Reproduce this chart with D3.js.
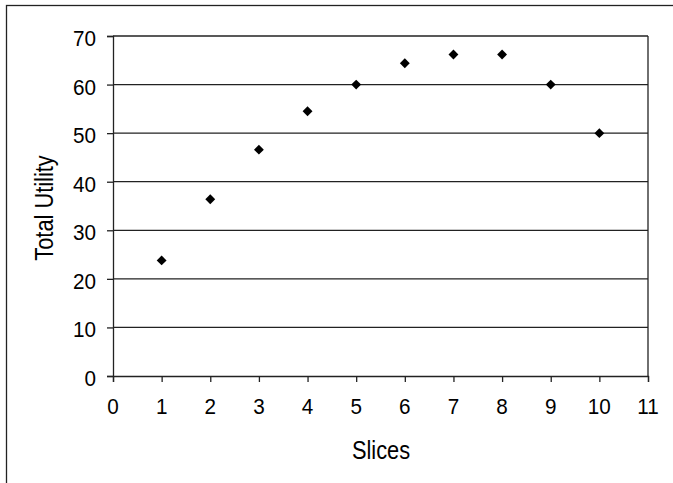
<!DOCTYPE html>
<html>
<head>
<meta charset="utf-8">
<script src="https://cdn.jsdelivr.net/npm/d3@7"></script>
<style>
  html, body { margin: 0; padding: 0; background: #fff; }
  svg { display: block; }
  text { font-family: "Liberation Sans", Arial, sans-serif; fill: #000; }
</style>
</head>
<body>
<svg id="chart" width="673" height="483"></svg>
<script>
// Total utility gained from each additional slice eaten
const slices = [1, 2, 3, 4, 5, 6, 7, 8, 9, 10];
const totalUtility = [23.8, 36.4, 46.6, 54.5, 60, 64.4, 66.2, 66.2, 60, 50];
const xTicks = [0, 1, 2, 3, 4, 5, 6, 7, 8, 9, 10, 11];
const yTicks = [0, 10, 20, 30, 40, 50, 60, 70];

const svg = d3.select("#chart");
const W = 673, H = 483;
const plot = { left: 113, right: 648, top: 36, bottom: 376 };
// narrow sans look: regular face squeezed horizontally
const TICK_FONT = 22, TICK_NARROW = 0.94;
const TITLE_FONT = 25.5, TITLE_NARROW = 0.855;

// Frame around the whole chart (runs off the right and bottom edges)
svg.append("rect")
  .attr("x", 6.5).attr("y", 5.5)
  .attr("width", W).attr("height", H)
  .attr("fill", "none").attr("stroke", "#222").attr("stroke-width", 1.3);

const x = d3.scaleLinear().domain([0, 11]).range([plot.left, plot.right]);
const y = d3.scaleLinear().domain([0, 70]).range([plot.bottom, plot.top]);

// Horizontal gridlines
svg.append("g")
  .selectAll("line")
  .data(yTicks.filter(d => d > 0))
  .join("line")
  .attr("x1", plot.left).attr("x2", plot.right)
  .attr("y1", d => y(d)).attr("y2", d => y(d))
  .attr("stroke", "#222").attr("stroke-width", 1.3);

// Right edge of the plot area
svg.append("line")
  .attr("x1", plot.right).attr("x2", plot.right)
  .attr("y1", plot.top).attr("y2", plot.bottom)
  .attr("stroke", "#222").attr("stroke-width", 1.3);

// Axes (lines and ticks); labels are set below in the narrow style
const yAxis = svg.append("g")
  .attr("transform", `translate(${plot.left},0)`)
  .call(d3.axisLeft(y).tickValues(yTicks).tickSize(6).tickFormat(""));
const xAxis = svg.append("g")
  .attr("transform", `translate(0,${plot.bottom})`)
  .call(d3.axisBottom(x).tickValues(xTicks).tickSize(6).tickFormat(""));
[yAxis, xAxis].forEach(g => {
  g.select(".domain").attr("stroke", "#222").attr("stroke-width", 1.3);
  g.selectAll(".tick line").attr("stroke", "#222").attr("stroke-width", 1.3);
  g.selectAll(".tick text").remove();
});

function label(px, py, str, anchor, size, narrow, rotate) {
  return svg.append("text")
    .attr("transform", `translate(${px},${py})` + (rotate ? ` rotate(${rotate})` : "") + ` scale(${narrow},1)`)
    .attr("text-anchor", anchor)
    .style("font-size", size + "px")
    .text(str);
}

// Tick labels
const fmt = d3.format("d");
yTicks.forEach(v => label(plot.left - 17, y(v) + 10, fmt(v), "end", TICK_FONT, TICK_NARROW));
xTicks.forEach(v => label(x(v), plot.bottom + 37.5, fmt(v), "middle", TICK_FONT, TICK_NARROW));

// Data points as diamonds
const diamond = d3.symbol().type(d3.symbolDiamond2).size(62);
svg.append("g")
  .selectAll("path")
  .data(slices.map((s, i) => ({ s, v: totalUtility[i] })))
  .join("path")
  .attr("d", diamond)
  .attr("transform", d => `translate(${x(d.s)},${y(d.v)})`)
  .attr("fill", "#000");

// Axis titles
label(381, 459, "Slices", "middle", TITLE_FONT, TITLE_NARROW);
label(53, 208, "Total Utility", "middle", TITLE_FONT, TITLE_NARROW, -90);
</script>
</body>
</html>
